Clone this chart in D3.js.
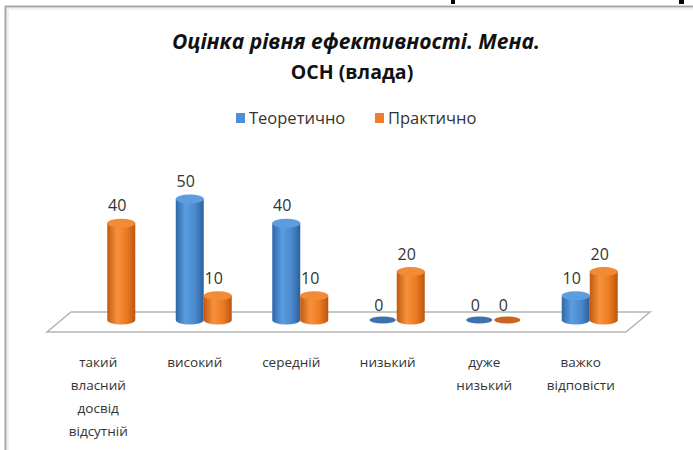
<!DOCTYPE html>
<html>
  <head>
    <meta charset="utf-8" />
    <title>Оцінка рівня ефективності</title>
    <script src="https://d3js.org/d3.v7.min.js"></script>
    <style>
        body{
            margin:0;
            background:#fff;
        }
        text{
            font-family:"Open Sans", "Noto Sans", sans-serif;
        }
    </style>
  </head>
  <body>
    <svg id="chart"></svg>

    <script>
      // data
      var categories = ["такий власний досвід відсутній", "високий", "середній", "низький", "дуже низький", "важко відповісти"];
      var categoryLines = [["такий", "власний", "досвід", "відсутній"], ["високий"], ["середній"], ["низький"], ["дуже", "низький"], ["важко", "відповісти"]];
      var seriesNames = ["Теоретично", "Практично"];
      var theoretical = [null, 50, 40, 0, 0, 10];
      var practical = [40, 10, 10, 20, 0, 20];

      var width = 693;
      var height = 450;

      var svg = d3.select("#chart")
        .attr("width", width)
        .attr("height", height);

      var defs = svg.append("defs");

      function cylGradient(id, stops) {
        var g = defs.append("linearGradient").attr("id", id)
          .attr("x1", "0%").attr("x2", "100%").attr("y1", "0%").attr("y2", "0%");
        stops.forEach(function(s) {
          g.append("stop").attr("offset", s[0]).attr("stop-color", s[1]);
        });
      }
      cylGradient("bodyBlue", [["0%", "#2f67a8"], ["35%", "#5b9de0"], ["70%", "#4a88cc"], ["100%", "#2c5f9c"]]);
      cylGradient("bodyOrange", [["0%", "#c2590f"], ["35%", "#f7923c"], ["70%", "#ea7a22"], ["100%", "#bb560e"]]);

      var colors = {
        "Теоретично": {body: "url(#bodyBlue)", top: "#5c9de0", flat: "#3d72ad", legend: "#4f8fd6"},
        "Практично": {body: "url(#bodyOrange)", top: "#f28a36", flat: "#c8651f", legend: "#ef7d2c"}
      };

      // frame of the slide
      svg.append("line").attr("x1", 5).attr("y1", 6.5).attr("x2", width).attr("y2", 6.5)
        .attr("stroke", "#a8a8a8").attr("stroke-width", 2);
      svg.append("line").attr("x1", 5.5).attr("y1", 6).attr("x2", 5.5).attr("y2", height)
        .attr("stroke", "#a8a8a8").attr("stroke-width", 2);
      svg.append("line").attr("x1", 8).attr("y1", 9).attr("x2", width).attr("y2", 9)
        .attr("stroke", "#f0f0f0").attr("stroke-width", 2);
      svg.append("line").attr("x1", 8).attr("y1", 9).attr("x2", 8).attr("y2", height)
        .attr("stroke", "#f0f0f0").attr("stroke-width", 2);
      // cut off glyphs of the line above
      svg.append("rect").attr("x", 451).attr("y", 0).attr("width", 4).attr("height", 4).attr("fill", "#000");
      svg.append("rect").attr("x", 679).attr("y", 0).attr("width", 5).attr("height", 4).attr("fill", "#000");

      // titles
      svg.append("text")
        .attr("x", 356).attr("y", 49)
        .attr("text-anchor", "middle")
        .style("font-size", "21px").style("font-weight", "bold").style("font-style", "italic")
        .attr("fill", "#111")
        .text("Оцінка рівня ефективності. Мена.");
      svg.append("text")
        .attr("x", 352).attr("y", 79)
        .attr("text-anchor", "middle")
        .style("font-size", "19.5px").style("font-weight", "bold")
        .attr("fill", "#111")
        .text("ОСН (влада)");

      // legend
      var legend = svg.append("g").attr("transform", "translate(236, 113)");
      var legendX = [0, 139];
      seriesNames.forEach(function(name, i) {
        legend.append("rect")
          .attr("x", legendX[i]).attr("y", 0)
          .attr("width", 9).attr("height", 10)
          .attr("fill", colors[name].legend);
        legend.append("text")
          .attr("x", legendX[i] + 13).attr("y", 11)
          .style("font-size", "16.5px")
          .attr("fill", "#333")
          .text(name);
      });

      // scales
      var x0 = d3.scaleBand()
        .domain(categories)
        .range([59, 638]);

      var bw = x0.bandwidth();
      var x1 = d3.scaleBand()
        .domain(seriesNames)
        .range([bw / 2 - 28, bw / 2 + 28]);

      var y = d3.scaleLinear()
        .domain([0, 50])
        .range([320, 199]);

      // floor
      var depth = 12;
      var floorY = y(0) + 2;
      var fx0 = x0.range()[0], fx1 = x0.range()[1];
      svg.append("path")
        .attr("d", "M" + (fx0 + depth) + "," + (floorY - 10) +
                   " L" + (fx1 + depth) + "," + (floorY - 10) +
                   " L" + (fx1 - depth) + "," + (floorY + 10) +
                   " L" + (fx0 - depth) + "," + (floorY + 10) + " Z")
        .attr("fill", "#fff")
        .attr("stroke", "#b4b4b4")
        .attr("stroke-width", 1.5);

      // bars as cylinders
      var rows = [];
      categories.forEach(function(c, i) {
        rows.push({cat: c, series: "Теоретично", value: theoretical[i]});
        rows.push({cat: c, series: "Практично", value: practical[i]});
      });
      rows = rows.filter(function(d) { return d.value !== null; });

      var rx = x1.bandwidth() / 2;
      var ry = 4.5;

      var bars = svg.append("g").selectAll("g.bar")
        .data(rows)
        .enter().append("g")
        .attr("class", "bar")
        .attr("transform", function(d) {
          return "translate(" + (x0(d.cat) + x1(d.series) + rx) + ",0)";
        });

      bars.each(function(d) {
        var g = d3.select(this);
        var c = colors[d.series];
        if (d.value === 0) {
          g.append("ellipse")
            .attr("cx", 0).attr("cy", y(0))
            .attr("rx", rx - 1).attr("ry", ry - 1)
            .attr("fill", c.flat);
          return;
        }
        var top = y(d.value), base = y(0);
        g.append("path")
          .attr("d", "M" + (-rx) + "," + top +
                     " L" + (-rx) + "," + base +
                     " A" + rx + "," + ry + " 0 0 0 " + rx + "," + base +
                     " L" + rx + "," + top + " Z")
          .attr("fill", c.body);
        g.append("ellipse")
          .attr("cx", 0).attr("cy", top)
          .attr("rx", rx).attr("ry", ry)
          .attr("fill", c.top);
      });

      // value labels
      svg.append("g").selectAll("text")
        .data(rows)
        .enter().append("text")
        .attr("x", function(d) { return x0(d.cat) + x1(d.series) + rx - 4; })
        .attr("y", function(d) { return y(d.value) - (d.value === 0 ? 9 : 12); })
        .attr("text-anchor", "middle")
        .style("font-size", "16px")
        .attr("fill", "#333")
        .text(function(d) { return d.value; });

      // category labels
      var cats = svg.append("g").selectAll("text")
        .data(categories)
        .enter().append("text")
        .attr("x", function(d) { return x0(d) + bw / 2 - 9; })
        .attr("y", 367)
        .attr("text-anchor", "middle")
        .style("font-size", "13.5px")
        .attr("fill", "#333");

      cats.each(function(d, i) {
        var t = d3.select(this);
        categoryLines[i].forEach(function(line, j) {
          t.append("tspan")
            .attr("x", t.attr("x"))
            .attr("dy", j === 0 ? 0 : 23)
            .text(line);
        });
      });
    </script>
  </body>
</html>
